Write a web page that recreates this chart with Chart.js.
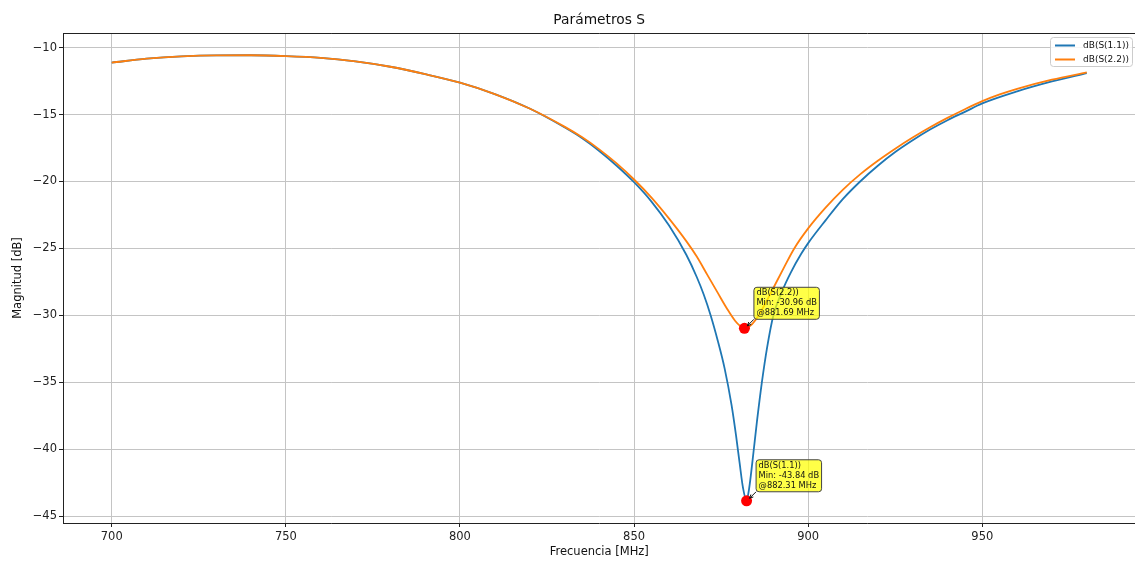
<!DOCTYPE html>
<html>
<head>
<meta charset="utf-8">
<title>Parámetros S</title>
<script src="https://cdn.jsdelivr.net/npm/chart.js@4/dist/chart.umd.min.js"></script>
<style>
  html, body { margin: 0; padding: 0; background: #fff; overflow: hidden; }
  #wrap { width: 1141px; height: 564px; position: relative; }
</style>
</head>
<body>
<div id="wrap"><canvas id="c"></canvas></div>
<script>
// Return loss of port 1 (S11), in dB, against frequency in MHz
const freqS11 = [700, 710, 720, 730, 740, 750, 760, 770, 780, 790, 800, 810, 820, 830, 835, 840, 845, 850, 855, 860, 865, 868, 870, 872, 874, 876, 878, 879.3, 880.3, 881.3, 882.31,
                 883, 883.6, 884.3, 885.3, 886.7, 888.2, 890, 892.5, 895, 898, 900, 905, 910, 915, 920, 925, 930, 935, 940, 945, 950, 960, 970, 980];
const dbS11   = [-11.12, -10.83, -10.65, -10.575, -10.57, -10.63, -10.76, -11.03, -11.43, -11.98, -12.62, -13.47, -14.55, -15.95, -16.75, -17.72, -18.82, -20.05, -21.5, -23.27, -25.47, -27.13, -28.44, -30.0, -31.85, -33.95, -36.7, -39.0, -41.0, -42.9, -43.84,
                 -43.0, -41.8, -40.2, -37.9, -35.0, -32.4, -30.0, -28.2, -26.8, -25.4, -24.6, -22.9, -21.3, -19.98, -18.82, -17.8, -16.92, -16.12, -15.42, -14.8, -14.17, -13.27, -12.53, -11.9];

// Return loss of port 2 (S22)
const freqS22 = [700, 710, 720, 730, 740, 750, 760, 770, 780, 790, 800, 810, 820, 830, 835, 840, 845, 850, 855, 860, 865, 868, 871, 874, 876.7, 879, 880.5, 881.69,
                 883, 885, 887.5, 890, 893, 896, 900, 905, 910, 915, 920, 925, 930, 935, 940, 945, 950, 955, 960, 970, 980];
const dbS22   = [-11.12, -10.83, -10.65, -10.575, -10.57, -10.63, -10.76, -11.03, -11.43, -11.98, -12.62, -13.47, -14.55, -15.9, -16.68, -17.6, -18.65, -19.85, -21.2, -22.75, -24.45, -25.6, -26.95, -28.3, -29.5, -30.4, -30.8, -30.96,
                 -30.85, -30.3, -29.2, -27.95, -26.45, -25.0, -23.5, -21.95, -20.6, -19.45, -18.45, -17.55, -16.72, -15.95, -15.25, -14.6, -14.0, -13.5, -13.08, -12.4, -11.85];

// Minimum markers
const minNames = ['dB(S(1.1))', 'dB(S(2.2))'];
const minFreq  = [882.31, 881.69];
const minDb    = [-43.84, -30.96];

// Axis ticks
const xTicks = [700, 750, 800, 850, 900, 950];
const yTicks = [-45, -40, -35, -30, -25, -20, -15, -10];

const BLUE = '#1f77b4';
const ORANGE = '#ff7f0e';
const FONT = '"DejaVu Sans", sans-serif';

const toPts = (xs, ys) => xs.map((x, i) => ({ x: x, y: ys[i] }));
const minus = v => (v < 0 ? '\u2212' : '') + Math.abs(v);

// Frame, title, axis titles, legend and min annotations
const decor = {
  id: 'decor',
  afterDatasetsDraw(chart) {
    const ctx = chart.ctx;
    const a = chart.chartArea;
    const xs = chart.scales.x, ys = chart.scales.y;

    ctx.save();
    // top spine
    ctx.strokeStyle = '#222';
    ctx.lineWidth = 1;
    ctx.beginPath();
    ctx.moveTo(a.left, a.top + 0.5);
    ctx.lineTo(a.right, a.top + 0.5);
    ctx.stroke();

    // annotations for minima
    ctx.font = '8.3px ' + FONT;
    ctx.textBaseline = 'middle';
    ctx.textAlign = 'left';
    for (let i = 0; i < minFreq.length; i++) {
      const px = xs.getPixelForValue(minFreq[i]);
      const py = ys.getPixelForValue(minDb[i]);
      const lines = [minNames[i], 'Min: ' + minDb[i].toFixed(2) + ' dB', '@' + minFreq[i].toFixed(2) + ' MHz'];
      let w = 0;
      lines.forEach(t => { w = Math.max(w, ctx.measureText(t).width); });
      const bx = px + 9.5, by = py - 9;           // bottom-left corner of the box
      const bw = w + 5, bh = 32;
      // arrow
      const ex = px + 3, ey = py - 2.5;
      ctx.strokeStyle = '#111';
      ctx.lineWidth = 1;
      ctx.beginPath();
      ctx.moveTo(bx, by);
      ctx.lineTo(ex, ey);
      ctx.stroke();
      const ang = Math.atan2(ey - by, ex - bx);
      ctx.beginPath();
      ctx.moveTo(ex - 4 * Math.cos(ang - 0.45), ey - 4 * Math.sin(ang - 0.45));
      ctx.lineTo(ex, ey);
      ctx.lineTo(ex - 4 * Math.cos(ang + 0.45), ey - 4 * Math.sin(ang + 0.45));
      ctx.stroke();
      // box
      ctx.beginPath();
      ctx.roundRect(bx, by - bh, bw, bh, 3);
      ctx.fillStyle = 'rgba(255,255,0,0.72)';
      ctx.fill();
      ctx.strokeStyle = '#444';
      ctx.stroke();
      ctx.fillStyle = '#111';
      lines.forEach((t, k) => ctx.fillText(t, bx + 2.5, by - bh + 6 + k * 10));
    }

    // title
    ctx.fillStyle = '#111';
    ctx.textAlign = 'center';
    ctx.textBaseline = 'middle';
    ctx.font = '13.8px ' + FONT;
    ctx.fillText('Parámetros S', (a.left + a.right) / 2, 20);

    // axis titles
    ctx.font = '11.5px ' + FONT;
    ctx.fillText('Frecuencia [MHz]', (a.left + a.right) / 2, 552);
    ctx.save();
    ctx.translate(18, (a.top + a.bottom) / 2);
    ctx.rotate(-Math.PI / 2);
    ctx.fillText('Magnitud [dB]', 0, 0);
    ctx.restore();

    // legend
    const lx = 1050.5, ly = 37.5, lw = 82, lh = 29;
    ctx.beginPath();
    ctx.roundRect(lx, ly, lw, lh, 3);
    ctx.fillStyle = 'rgba(255,255,255,0.85)';
    ctx.fill();
    ctx.strokeStyle = '#cccccc';
    ctx.lineWidth = 1;
    ctx.stroke();
    ctx.font = '9px ' + FONT;
    ctx.textAlign = 'left';
    const entries = [[BLUE, minNames[0]], [ORANGE, minNames[1]]];
    entries.forEach((e, k) => {
      const yy = 45.5 + k * 14;
      ctx.strokeStyle = e[0];
      ctx.lineWidth = 2;
      ctx.beginPath();
      ctx.moveTo(1055, yy);
      ctx.lineTo(1075, yy);
      ctx.stroke();
      ctx.fillStyle = '#111';
      ctx.fillText(e[1], 1083, yy);
    });
    ctx.restore();
  }
};

new Chart(document.getElementById('c'), {
  type: 'line',
  data: {
    datasets: [
      {
        label: 'dB(S(1.1))',
        data: toPts(freqS11, dbS11),
        borderColor: BLUE,
        borderWidth: 1.8,
        pointRadius: 0,
        cubicInterpolationMode: 'monotone',
        order: 3
      },
      {
        label: 'dB(S(2.2))',
        data: toPts(freqS22, dbS22),
        borderColor: ORANGE,
        borderWidth: 1.8,
        pointRadius: 0,
        cubicInterpolationMode: 'monotone',
        order: 2
      },
      {
        label: 'min',
        type: 'scatter',
        data: toPts(minFreq, minDb),
        pointRadius: 5.5,
        pointBackgroundColor: '#ff0000',
        pointBorderWidth: 0,
        showLine: false,
        order: 1
      }
    ]
  },
  options: {
    responsive: true,
    maintainAspectRatio: false,
    animation: false,
    devicePixelRatio: 1,
    events: [],
    layout: { padding: { left: 0, top: 33, right: 1, bottom: 0 } },
    plugins: {
      legend: { display: false },
      title: { display: false },
      tooltip: { enabled: false }
    },
    scales: {
      x: {
        type: 'linear',
        min: 686,
        max: 994,
        afterBuildTicks: s => { s.ticks = xTicks.map(v => ({ value: v })); },
        afterFit: s => { s.height = 41; },
        ticks: { color: '#222', font: { family: FONT, size: 11.5 }, padding: 3, maxRotation: 0, callback: v => minus(v) },
        grid: { color: '#c4c4c4', lineWidth: 1, tickColor: '#222', tickLength: 4 },
        border: { display: true, color: '#222', width: 1 }
      },
      y: {
        type: 'linear',
        min: -45.5,
        max: -8.91,
        afterBuildTicks: s => { s.ticks = yTicks.map(v => ({ value: v })); },
        afterFit: s => { s.width = 63; },
        ticks: { color: '#222', font: { family: FONT, size: 11.5 }, padding: 2, callback: v => minus(v) },
        grid: { color: '#c4c4c4', lineWidth: 1, tickColor: '#222', tickLength: 4 },
        border: { display: true, color: '#222', width: 1 }
      }
    }
  },
  plugins: [decor]
});
</script>
</body>
</html>
